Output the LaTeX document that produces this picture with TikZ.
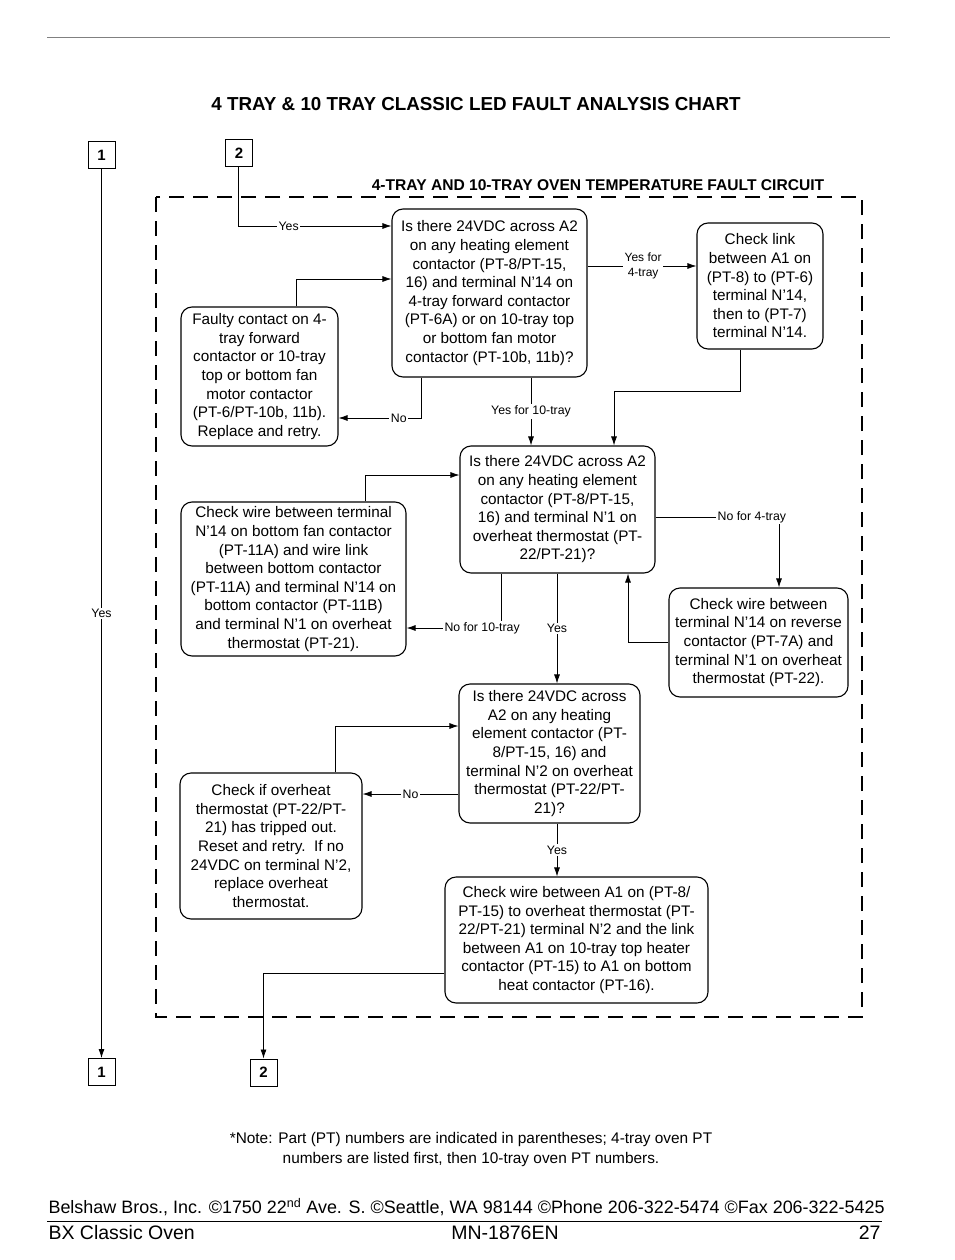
\documentclass[tikz,border=0pt]{standalone}
\usepackage{fontspec}
\setmainfont{Liberation Sans}
\usetikzlibrary{arrows.meta}
\begin{document}
\begin{tikzpicture}[x=1pt,y=-1pt,
  box/.style={draw,rounded corners=11pt,line width=1.1pt,align=center,font=\fontsize{15.3}{18.6}\selectfont,inner sep=0pt},
  lbl/.style={font=\fontsize{12.3}{14}\selectfont,fill=white,inner sep=1.5pt},
  arr/.style={line width=0.8pt,-{Latex[length=9pt,width=6pt]}},
  numbox/.style={draw,line width=1pt,minimum width=27pt,minimum height=27pt,font=\bfseries\fontsize{15}{17}\selectfont,inner sep=0pt}]
\useasboundingbox (0,0) rectangle (954,1260);
% top rule and titles
\draw[line width=0.8pt,gray] (47,37) -- (890,37);
\node[font=\bfseries\fontsize{18.8}{22}\selectfont] (title) at (476,104) {4 TRAY \& 10 TRAY CLASSIC LED FAULT ANALYSIS CHART};
\node[font=\bfseries\fontsize{15.6}{18}\selectfont] (sub) at (598,185) {4-TRAY AND 10-TRAY OVEN TEMPERATURE FAULT CIRCUIT};
\draw[line width=2.6pt,dash pattern=on 15pt off 9pt] (156,197) rectangle (862,1017);
% connector number boxes
\node[numbox] (b1t) at (101.5,155) {1};
\node[numbox] (b2t) at (239,153) {2};
\node[numbox] (b1b) at (101.5,1072) {1};
\node[numbox] (b2b) at (263.5,1072.5) {2};
% flowchart boxes
\node[box,minimum width=195pt,minimum height=168pt] (q1) at (489.5,293) {Is there 24VDC across A2\\on any heating element\\contactor (PT-8/PT-15,\\16) and terminal N'14 on\\4-tray forward contactor\\(PT-6A) or on 10-tray top\\or bottom fan motor\\contactor (PT-10b, 11b)?};
\node[box,minimum width=157pt,minimum height=139pt] (f1) at (259.5,376.5) {Faulty contact on 4-\\tray forward\\contactor or 10-tray\\top or bottom fan\\motor contactor\\(PT-6/PT-10b, 11b).\\Replace and retry.};
\node[box,minimum width=126pt,minimum height=126pt] (c1) at (760,286) {Check link\\between A1 on\\(PT-8) to (PT-6)\\terminal N'14,\\then to (PT-7)\\terminal N'14.};
\node[box,minimum width=195pt,minimum height=127pt] (q2) at (557.5,509.5) {Is there 24VDC across A2\\on any heating element\\contactor (PT-8/PT-15,\\16) and terminal N'1 on\\overheat thermostat (PT-\\22/PT-21)?};
\node[box,minimum width=225pt,minimum height=154pt] (c2) at (293.5,579) {Check wire between terminal\\N'14 on bottom fan contactor\\(PT-11A) and wire link\\between bottom contactor\\(PT-11A) and terminal N'14 on\\bottom contactor (PT-11B)\\and terminal N'1 on overheat\\thermostat (PT-21).};
\node[box,minimum width=179pt,minimum height=109pt] (c3) at (758.5,642.5) {Check wire between\\terminal N'14 on reverse\\contactor (PT-7A) and\\terminal N'1 on overheat\\thermostat (PT-22).};
\node[box,minimum width=181pt,minimum height=139pt] (q3) at (549.5,753.5) {Is there 24VDC across\\A2 on any heating\\element contactor (PT-\\8/PT-15, 16) and\\terminal N'2 on overheat\\thermostat (PT-22/PT-\\21)?};
\node[box,minimum width=182pt,minimum height=146pt] (c4) at (271,846) {Check if overheat\\thermostat (PT-22/PT-\\21) has tripped out.\\Reset and retry.\ \ If no\\24VDC on terminal N'2,\\replace overheat\\thermostat.};
\node[box,minimum width=263pt,minimum height=126pt] (c5) at (576.5,940) {Check wire between A1 on (PT-8/\\PT-15) to overheat thermostat (PT-\\22/PT-21) terminal N'2 and the link\\between A1 on 10-tray top heater\\contactor (PT-15) to A1 on bottom\\heat contactor (PT-16).};
% connectors
\draw[arr] (b1t.south) -- node[lbl,pos=0.5]{Yes} (b1b.north);
\draw[arr] (238,0 |- b2t.south) -- (238,226) -- node[lbl,pos=0.33]{Yes} (q1.west |- 0,226);
\draw[arr] (296,0 |- f1.north) -- (296,279) -- (q1.west |- 0,279);
\draw[arr] (421,0 |- q1.south) -- (421,418) -- node[lbl,pos=0.27]{No} (f1.east |- 0,418);
\draw[arr] (q1.east |- 0,266) -- node[lbl,pos=0.51,align=center,font=\fontsize{12}{15}\selectfont]{Yes for\\4-tray} (c1.west |- 0,266);
\draw[arr] (531,0 |- q1.south) -- node[lbl,pos=0.5]{Yes for 10-tray} (531,0 |- q2.north);
\draw[arr] (740,0 |- c1.south) -- (740,391) -- (614,391) -- (614,0 |- q2.north);
\draw[arr] (365,0 |- c2.north) -- (365,475) -- (q2.west |- 0,475);
\draw[arr] (501,0 |- q2.south) -- (501,628) -- node[lbl,pos=0.2]{No for 10-tray} (c2.east |- 0,628);
\draw[arr] (557,0 |- q2.south) -- node[lbl,pos=0.5]{Yes} (557,0 |- q3.north);
\draw[arr] (q2.east |- 0,517) -- node[lbl,pos=0.78]{No for 4-tray} (779,517) -- (779,0 |- c3.north);
\draw[arr] (c3.west |- 0,642) -- (628,642) -- (628,0 |- q2.south);
\draw[arr] (335,0 |- c4.north) -- (335,726) -- (q3.west |- 0,726);
\draw[arr] (q3.west |- 0,794) -- node[lbl,pos=0.5]{No} (c4.east |- 0,794);
\draw[arr] (557,0 |- q3.south) -- node[lbl,pos=0.5]{Yes} (557,0 |- c5.north);
\draw[arr] (c5.west |- 0,973) -- (263.5,973) -- (b2b.north);
% notes and footer
\node[font=\fontsize{15.4}{18}\selectfont] (note1) at (471,1140) {*Note: Part (PT) numbers are indicated in parentheses; 4-tray oven PT};
\node[font=\fontsize{15.4}{18}\selectfont] (note2) at (471,1160) {numbers are listed first, then 10-tray oven PT numbers.};
\node[anchor=west,font=\fontsize{17.95}{20}\selectfont] (addr) at (45,1207) {Belshaw Bros., Inc. ©1750 22\textsuperscript{nd} Ave. S. ©Seattle, WA 98144 ©Phone 206-322-5474 ©Fax 206-322-5425};
\draw[line width=0.8pt] (47,1221) -- (882,1221);
\node[anchor=west,font=\fontsize{19.5}{22}\selectfont] (f1l) at (45,1233) {BX Classic Oven};
\node[font=\fontsize{19.5}{22}\selectfont] (f1m) at (505,1233) {MN-1876EN};
\node[anchor=east,font=\fontsize{19.5}{22}\selectfont] (f1r) at (884,1233) {27};
\end{tikzpicture}
\end{document}
